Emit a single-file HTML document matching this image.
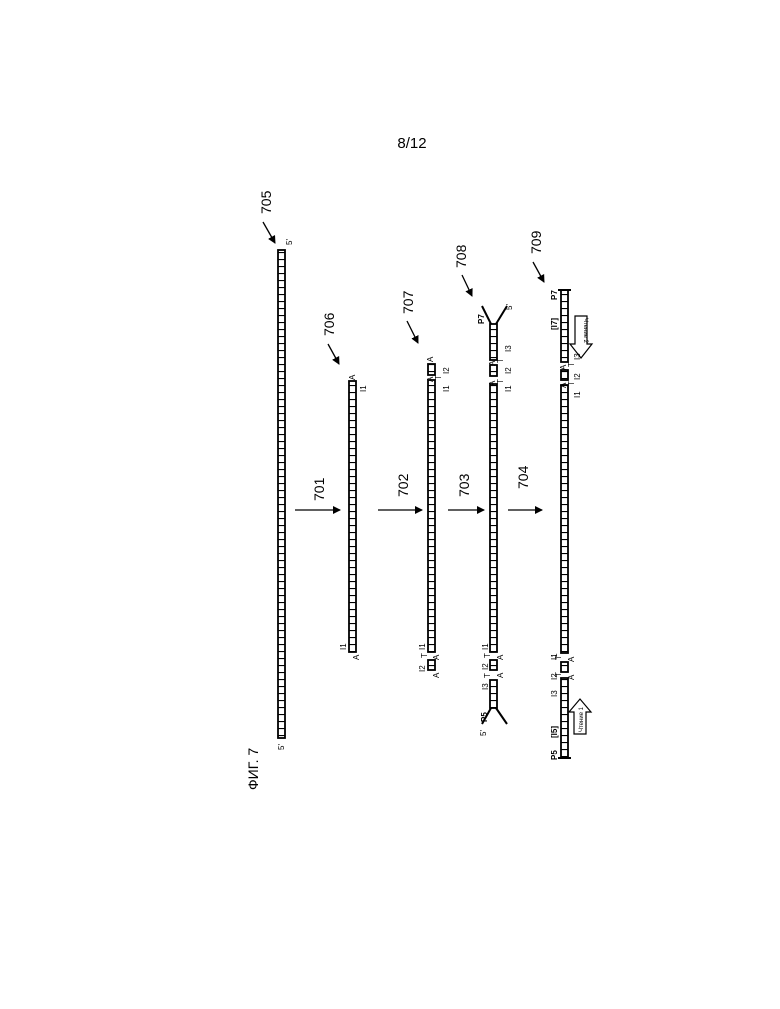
<!DOCTYPE html>
<html><head><meta charset="utf-8"><style>
html,body{margin:0;padding:0;background:#fff;width:780px;height:1009px;overflow:hidden}
svg{display:block}
text{font-family:"Liberation Sans","DejaVu Sans",sans-serif;fill:#000}
</style></head><body>
<svg width="780" height="1009" viewBox="0 0 780 1009" xmlns="http://www.w3.org/2000/svg">
<defs>
<pattern id="rung" width="8" height="7" patternUnits="userSpaceOnUse">
<rect width="8" height="7" fill="#fff"/>
<line x1="0" y1="0.5" x2="8" y2="0.5" stroke="#000" stroke-width="1.2"/>
</pattern>
<marker id="ah" markerWidth="8" markerHeight="8" refX="7" refY="4" orient="auto" markerUnits="userSpaceOnUse">
<path d="M0,0 L8,4 L0,8 z" fill="#000"/>
</marker>
</defs>
<g stroke="#000" stroke-width="1.8" fill="url(#rung)">
<rect x="278" y="250" width="7" height="488"/>
<rect x="349" y="381" width="7" height="271"/>
<rect x="428" y="364" width="7" height="11"/>
<rect x="428" y="380" width="7" height="272"/>
<rect x="428" y="660" width="7" height="10"/>
<rect x="490" y="324" width="7" height="36"/>
<rect x="490" y="365" width="7" height="11"/>
<rect x="490" y="384" width="7" height="268"/>
<rect x="490" y="660" width="7" height="10"/>
<rect x="490" y="680" width="7" height="28"/>
<rect x="561" y="290" width="7" height="72"/>
<rect x="561" y="370" width="7" height="10"/>
<rect x="561" y="385" width="7" height="268"/>
<rect x="561" y="662" width="7" height="10"/>
<rect x="561" y="678" width="7" height="80"/>
</g>
<g stroke="#000" stroke-width="2" fill="none">
<path d="M491,324 L482,306 M496,324 L507,306"/>
<path d="M491,708 L482,724 M496,708 L507,724"/>
<line x1="558" y1="290" x2="571" y2="290"/>
<line x1="558" y1="758" x2="571" y2="758"/>
</g>
<g stroke="#000" stroke-width="1.3" fill="none">
<line x1="295" y1="510" x2="340" y2="510" marker-end="url(#ah)"/>
<line x1="378" y1="510" x2="422" y2="510" marker-end="url(#ah)"/>
<line x1="448" y1="510" x2="484" y2="510" marker-end="url(#ah)"/>
<line x1="508" y1="510" x2="542" y2="510" marker-end="url(#ah)"/>
<line x1="263" y1="222" x2="275" y2="243" marker-end="url(#ah)"/>
<line x1="328" y1="344" x2="339" y2="364" marker-end="url(#ah)"/>
<line x1="407" y1="321" x2="418" y2="343" marker-end="url(#ah)"/>
<line x1="462" y1="275" x2="472" y2="296" marker-end="url(#ah)"/>
<line x1="533" y1="262" x2="544" y2="282" marker-end="url(#ah)"/>
</g>
<g stroke="#000" stroke-width="1.2" fill="#fff">
<path d="M575,316 L587,316 L587,344 L592,344 L581,358 L570,344 L575,344 Z"/>
<path d="M574,734 L586,734 L586,712 L591,712 L580,699 L569,712 L574,712 Z"/>
</g>
<text x="412" y="148" font-size="15" text-anchor="middle">8/12</text>
<g font-size="14">
<text transform="translate(271,214) rotate(-90)">705</text>
<text transform="translate(334,336) rotate(-90)">706</text>
<text transform="translate(413,314) rotate(-90)">707</text>
<text transform="translate(466,268) rotate(-90)">708</text>
<text transform="translate(541,254) rotate(-90)">709</text>
<text transform="translate(324,501) rotate(-90)">701</text>
<text transform="translate(408,497) rotate(-90)">702</text>
<text transform="translate(469,497) rotate(-90)">703</text>
<text transform="translate(528,489) rotate(-90)">704</text>
<text transform="translate(258,790) rotate(-90)">ФИГ. 7</text>
</g>
<g font-size="8">
<text transform="translate(292,245) rotate(-90)">5'</text>
<text transform="translate(284,750) rotate(-90)">5'</text>
<text transform="translate(355,380) rotate(-90)">A</text>
<text transform="translate(366,392) rotate(-90)">I1</text>
<text transform="translate(346,650) rotate(-90)">I1</text>
<text transform="translate(359,660) rotate(-90)">A</text>
<text transform="translate(433,362) rotate(-90)">A</text>
<text transform="translate(433,382) rotate(-90)">A</text>
<text transform="translate(441,380) rotate(-90)">T</text>
<text transform="translate(449,392) rotate(-90)">I1</text>
<text transform="translate(449,374) rotate(-90)">I2</text>
<text transform="translate(425,650) rotate(-90)">I1</text>
<text transform="translate(425,672) rotate(-90)">I2</text>
<text transform="translate(427,658) rotate(-90)">T</text>
<text transform="translate(439,660) rotate(-90)">A</text>
<text transform="translate(439,678) rotate(-90)">A</text>
<text transform="translate(484,324) rotate(-90)" font-weight="bold">P7</text>
<text transform="translate(512,310) rotate(-90)">5'</text>
<text transform="translate(495,386) rotate(-90)">A</text>
<text transform="translate(495,366) rotate(-90)">A</text>
<text transform="translate(503,384) rotate(-90)">T</text>
<text transform="translate(503,363) rotate(-90)">T</text>
<text transform="translate(511,392) rotate(-90)">I1</text>
<text transform="translate(511,374) rotate(-90)">I2</text>
<text transform="translate(511,352) rotate(-90)">I3</text>
<text transform="translate(488,650) rotate(-90)">I1</text>
<text transform="translate(488,670) rotate(-90)">I2</text>
<text transform="translate(488,690) rotate(-90)">I3</text>
<text transform="translate(490,658) rotate(-90)">T</text>
<text transform="translate(490,678) rotate(-90)">T</text>
<text transform="translate(503,660) rotate(-90)">A</text>
<text transform="translate(503,678) rotate(-90)">A</text>
<text transform="translate(487,722) rotate(-90)" font-weight="bold">P5</text>
<text transform="translate(486,736) rotate(-90)">5'</text>
<text transform="translate(557,300) rotate(-90)" font-weight="bold">P7</text>
<text transform="translate(557,330) rotate(-90)" font-weight="bold">[I7]</text>
<text transform="translate(566,388) rotate(-90)">A</text>
<text transform="translate(566,370) rotate(-90)">A</text>
<text transform="translate(574,386) rotate(-90)">T</text>
<text transform="translate(574,367) rotate(-90)">T</text>
<text transform="translate(580,398) rotate(-90)">I1</text>
<text transform="translate(580,380) rotate(-90)">I2</text>
<text transform="translate(580,360) rotate(-90)">I3</text>
<text transform="translate(557,660) rotate(-90)">I1</text>
<text transform="translate(557,680) rotate(-90)">I2</text>
<text transform="translate(557,697) rotate(-90)">I3</text>
<text transform="translate(561,660) rotate(-90)">T</text>
<text transform="translate(561,677) rotate(-90)">T</text>
<text transform="translate(574,662) rotate(-90)">A</text>
<text transform="translate(574,680) rotate(-90)">A</text>
<text transform="translate(557,738) rotate(-90)" font-weight="bold">[I5]</text>
<text transform="translate(557,760) rotate(-90)" font-weight="bold">P5</text>
<text transform="translate(584,318) rotate(90)" font-size="6">Чтение 2</text>
<text transform="translate(583,732) rotate(-90)" font-size="6">Чтение 1</text>
</g>
</svg>
</body></html>
